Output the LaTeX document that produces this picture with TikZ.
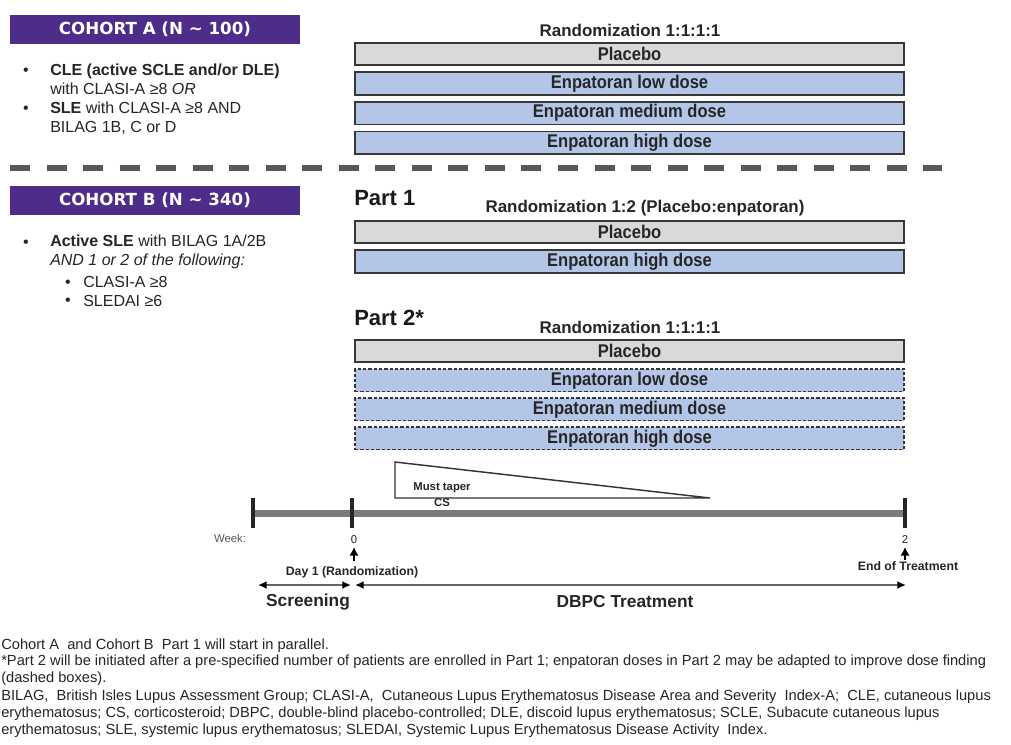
\documentclass[tikz,border=0pt]{standalone}
\usepackage{fontspec}
\setmainfont{Liberation Sans}
\newfontfamily\bannerfont{DejaVu Sans}
\newfontfamily\armfont[FakeStretch=0.9]{Liberation Sans}
\newfontfamily\notefont{Liberation Sans}
\usetikzlibrary{arrows,arrows.meta,positioning,shapes}
\definecolor{cohortpurple}{RGB}{78,44,138}
\definecolor{pbogray}{RGB}{217,217,217}
\definecolor{enpblue}{RGB}{180,198,231}
\definecolor{boxline}{RGB}{55,55,55}
\definecolor{inktext}{RGB}{38,38,38}

\begin{document}
\begin{tikzpicture}[x=0.75pt,y=-0.75pt,
            cohort/.style={fill=cohortpurple,text=white,font=\bannerfont\bfseries\fontsize{12.5}{14}\selectfont,minimum width=217.5pt,minimum height=21.75pt,inner sep=0pt},
            crit/.style={anchor=west,align=left,text=inktext,font=\fontsize{12}{14.25}\selectfont,inner sep=0pt},
            dot/.style={text=inktext,font=\fontsize{12}{14}\selectfont,inner sep=0pt},
            arm/.style={draw=boxline,line width=1.4pt,minimum width=411.7pt,minimum height=17pt,inner sep=0pt,font=\armfont\bfseries\fontsize{13.8}{15}\selectfont,text=black!85,node distance=3.8pt},
            pbo/.style={arm,fill=pbogray},
            enpa/.style={arm,fill=enpblue},
            adapt/.style={enpa,line width=1pt,dash pattern=on 2.5pt off 1.5pt},
            rand/.style={font=\bfseries\fontsize{12.7}{14}\selectfont,text=black!85,inner sep=0pt},
            part/.style={font=\bfseries\fontsize{16.5}{18}\selectfont,text=black!90,inner sep=0pt,anchor=west},
            divider/.style={draw=black!65,line width=4pt,dash pattern=on 15pt off 12.4pt},
            tickmark/.style={fill=black!85,minimum width=3pt,minimum height=23pt,inner sep=0pt},
            timebar/.style={draw=black!52,line width=5.25pt},
            taper/.style={draw=black!80,line width=1.1pt,line join=miter},
            tinylab/.style={font=\bfseries\fontsize{8.5}{12}\selectfont,text=black!85,align=center,inner sep=0pt},
            tllab/.style={font=\bfseries\fontsize{9.2}{11}\selectfont,text=black!85,inner sep=0pt},
            weeklab/.style={font=\fontsize{8.5}{10}\selectfont,text=black!65,inner sep=0pt},
            phaselab/.style={font=\bfseries\fontsize{13}{15}\selectfont,text=black!85,inner sep=0pt},
            note/.style={anchor=west,font=\notefont\fontsize{11}{13}\selectfont,text=inktext,inner sep=0pt},
            phase/.style={draw=black!60,line width=1.3pt,>={Latex[black,length=6.5pt,width=6pt]},<->},
            uparrow/.style={draw=black,line width=1.5pt,->,>={Latex[length=6.5pt,width=7pt]}}
          ]
          \fill[white,use as bounding box] (0,0) rectangle (1011,744);

          %cohort A
          \node[cohort] (cohA) at (155,29) {COHORT A (N \textasciitilde\ 100)};
          \node[dot] (a1dot) at (26,72) {•};
          \node[crit] (a1) at (50,79) {\textbf{CLE (active SCLE and/or DLE)}\\with CLASI-A ≥8 \textit{OR}};
          \node[dot] (a2dot) at (26,110) {•};
          \node[crit] (a2) at (50,118) {\textbf{SLE} with CLASI-A ≥8 AND\\BILAG 1B, C or D};

          \node[rand] (randA) at (630,30) {Randomization 1:1:1:1};
          \node[pbo] (pboA) at (629.5,54) {Placebo};
          \node[enpa,below=of pboA] (lowA) {Enpatoran low dose};
          \node[enpa,below=of lowA] (medA) {Enpatoran medium dose};
          \node[enpa,below=of medA] (highA) {Enpatoran high dose};

          %separator
          \draw[divider] (10,168) -- (942,168);

          %cohort B
          \node[cohort] (cohB) at (155,200.5) {COHORT B (N \textasciitilde\ 340)};
          \node[dot] (b1dot) at (26,244) {•};
          \node[crit] (b1) at (50,251.5) {\textbf{Active SLE} with BILAG 1A/2B\\\textit{AND 1 or 2 of the following:}};
          \node[dot] (b2dot) at (68,284) {•};
          \node[dot] (b3dot) at (68,302) {•};
          \node[crit] (b2) at (83,291) {CLASI-A ≥8\\SLEDAI ≥6};

          %part 1
          \node[part] (part1) at (354,198) {Part 1};
          \node[rand] (rand1) at (645,208) {Randomization 1:2 (Placebo:enpatoran)};
          \node[pbo] (pbo1) at (629.5,232) {Placebo};
          \node[enpa,below=of pbo1] (high1) {Enpatoran high dose};

          %part 2
          \node[part] (part2) at (354,318) {Part 2*};
          \node[rand] (rand2) at (630,327) {Randomization 1:1:1:1};
          \node[pbo] (pbo2) at (629.5,351) {Placebo};
          \node[adapt,below=of pbo2] (low2) {Enpatoran low dose};
          \node[adapt,below=of low2] (med2) {Enpatoran medium dose};
          \node[adapt,below=of med2] (high2) {Enpatoran high dose};

          %steroid taper
          \coordinate (cstop) at (395,462);
          \coordinate (cstip) at (710,498);
          \coordinate (csbase) at (395,498);
          \draw[taper] (cstop) -- (cstip) -- (csbase) -- cycle;
          \node[tinylab] (cs) at (442,495) {Must taper\\CS};

          %timeline
          \coordinate (tlstart) at (253,513);
          \coordinate (tlend) at (905,513);
          \draw[timebar] (tlstart) -- (tlend);
          \node[tickmark] (tscr) at (tlstart) {};
          \node[tickmark] (t0) at (352,513) {};
          \node[tickmark] (t2) at (tlend) {};

          \node[weeklab] (wk) at (230,538) {Week:};
          \node[weeklab,text=black!85] (w0) at (354,540) {0};
          \node[weeklab,text=black!85] (w2) at (905,540) {2};
          \node[tllab] (day1) at (352,572) {Day 1 (Randomization)};
          \node[tllab] (eot) at (908,566) {End of Treatment};
          \draw[uparrow,shorten <=4pt,shorten >=2pt] (w0 |- day1.north) -- (w0.south);
          \draw[uparrow,shorten <=1pt,shorten >=2pt] (w2 |- eot.north) -- (w2.south);

          \coordinate (scra) at (258,585);
          \coordinate (scrb) at (351,585);
          \coordinate (dbpca) at (355,585);
          \coordinate (dbpcb) at (906,585);
          \draw[phase] (scra) -- (scrb);
          \draw[phase] (dbpca) -- (dbpcb);
          \node[phaselab] (scr) at (308,602) {Screening};
          \node[phaselab] (dbpc) at (625,602) {DBPC Treatment};

          %footnotes
          \node[note] (fn1) at (1,646) {Cohort A \ and Cohort B \ Part 1 will start in parallel.};
          \node[note] (fn2) at (1,662) {*Part 2 will be initiated after a pre-specified number of patients are enrolled in Part 1; enpatoran doses in Part 2 may be adapted to improve dose finding};
          \node[note] (fn3) at (1,679) {(dashed boxes).};
          \node[note] (fn4) at (1,697) {BILAG, \ British Isles Lupus Assessment Group; CLASI-A, \ Cutaneous Lupus Erythematosus Disease Area and Severity \ Index-A; \ CLE, cutaneous lupus};
          \node[note] (fn5) at (1,714) {erythematosus; CS, corticosteroid; DBPC, double-blind placebo-controlled; DLE, discoid lupus erythematosus; SCLE, Subacute cutaneous lupus};
          \node[note] (fn6) at (1,731) {erythematosus; SLE, systemic lupus erythematosus; SLEDAI, Systemic Lupus Erythematosus Disease Activity \ Index.};

      \end{tikzpicture}
\end{document}
